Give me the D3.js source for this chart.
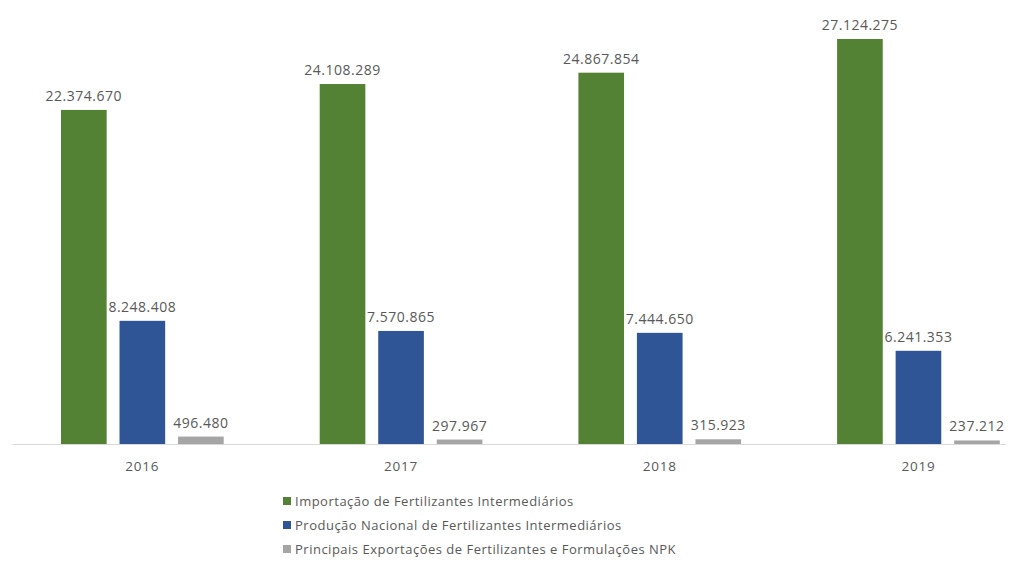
<!DOCTYPE html>
<html>
<head>
<meta charset="utf-8">
<script src="https://cdn.jsdelivr.net/npm/d3@7"></script>
<style>
  body { margin: 0; background: #fff; }
  text { font-family: "Open Sans", sans-serif; fill: #595959; }
</style>
</head>
<body>
<svg id="chart" width="1014" height="563"></svg>
<script>
// dados
let years = ["2016", "2017", "2018", "2019"];
let series = [
  "Importação de Fertilizantes Intermediários",
  "Produção Nacional de Fertilizantes Intermediários",
  "Principais Exportações de Fertilizantes e Formulações NPK"
];
let importacao = [22374670, 24108289, 24867854, 27124275];
let producao = [8248408, 7570865, 7444650, 6241353];
let exportacao = [496480, 297967, 315923, 237212];
let colors = ["#548235", "#2f5597", "#a5a5a5"];

let w = 1014, h = 563;
let baseY = 444;
let svg = d3.select("#chart");

let x0 = d3.scaleBand().domain(years).range([13, 13 + 4 * 258.7]).paddingInner(0).paddingOuter(0);
let x1 = d3.scaleBand().domain(d3.range(series.length)).range([48, x0.bandwidth() - 48]).paddingInner(0.22).paddingOuter(0);
let y = d3.scaleLinear().domain([0, 27124275]).range([baseY, 39]);

let fmt = v => d3.format(",")(v).replace(/,/g, ".");

let allSeries = [importacao, producao, exportacao];

// baseline
svg.append("line")
  .attr("x1", 12).attr("x2", 1006)
  .attr("y1", baseY + 0.5).attr("y2", baseY + 0.5)
  .attr("stroke", "#d9d9d9").attr("stroke-width", 1);

let groups = svg.selectAll("g.year")
  .data(years)
  .enter().append("g")
  .attr("class", "year")
  .attr("transform", d => "translate(" + x0(d) + ",0)");

allSeries.forEach((vals, si) => {
  groups.append("rect")
    .attr("x", x1(si))
    .attr("width", x1.bandwidth())
    .attr("y", (d, i) => y(vals[i]))
    .attr("height", (d, i) => baseY - y(vals[i]))
    .attr("fill", colors[si]);

  groups.append("text")
    .attr("x", x1(si) + x1.bandwidth() / 2)
    .attr("y", (d, i) => y(vals[i]) - 9)
    .attr("text-anchor", "middle")
    .style("font-size", "14px")
    .style("letter-spacing", "0.5px")
    .text((d, i) => fmt(vals[i]));
});

// rótulos dos anos
svg.append("g").selectAll("text")
  .data(years)
  .enter().append("text")
  .attr("x", d => x0(d) + x0.bandwidth() / 2)
  .attr("y", 471)
  .attr("text-anchor", "middle")
  .style("font-size", "13.5px")
  .style("letter-spacing", "0.8px")
  .text(d => d);

// legenda
let legend = svg.append("g").attr("transform", "translate(283,0)");
series.forEach((s, i) => {
  let ly = 506 + i * 24;
  legend.append("rect")
    .attr("x", 0).attr("y", ly - 9)
    .attr("width", 8).attr("height", 8)
    .attr("fill", colors[i]);
  legend.append("text")
    .attr("x", 12).attr("y", ly)
    .style("font-size", "13px")
    .style("letter-spacing", "0.5px")
    .text(s);
});
</script>
</body>
</html>
